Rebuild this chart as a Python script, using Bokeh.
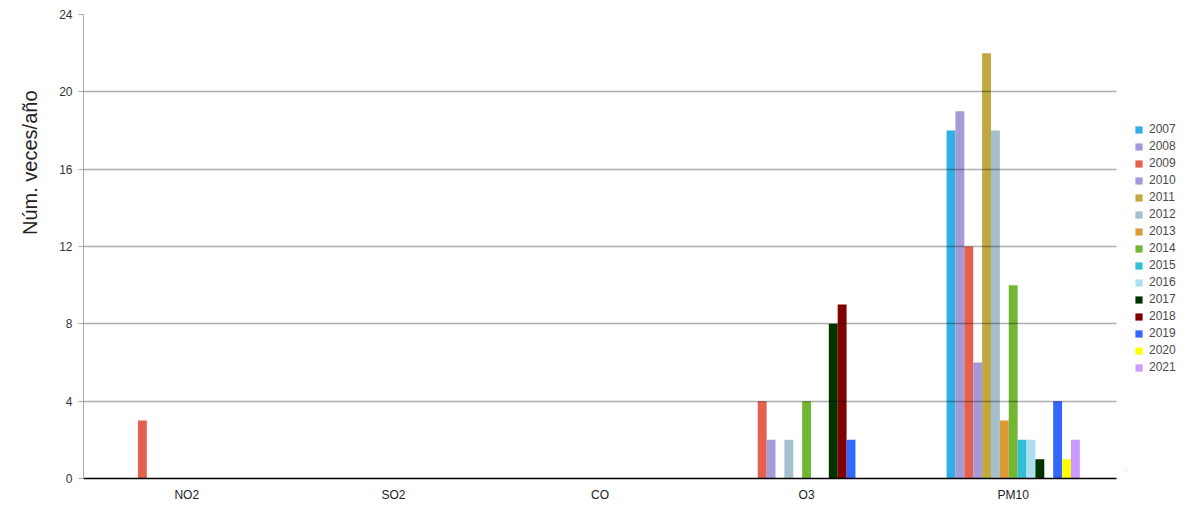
from bokeh.plotting import figure
from bokeh.layouts import row
from bokeh.models import ColumnDataSource, FixedTicker, Legend, LegendItem, Title
from bokeh.transform import dodge
from bokeh.embed import file_html
from bokeh.resources import INLINE

categories = ["NO2", "SO2", "CO", "O3", "PM10"]
years = ["2007", "2008", "2009", "2010", "2011", "2012", "2013", "2014",
         "2015", "2016", "2017", "2018", "2019", "2020", "2021"]
v2007 = [0, 0, 0, 0, 18]
v2008 = [0, 0, 0, 0, 19]
v2009 = [3, 0, 0, 4, 12]
v2010 = [0, 0, 0, 2, 6]
v2011 = [0, 0, 0, 0, 22]
v2012 = [0, 0, 0, 2, 18]
v2013 = [0, 0, 0, 0, 3]
v2014 = [0, 0, 0, 4, 10]
v2015 = [0, 0, 0, 0, 2]
v2016 = [0, 0, 0, 0, 2]
v2017 = [0, 0, 0, 8, 1]
v2018 = [0, 0, 0, 9, 0]
v2019 = [0, 0, 0, 2, 4]
v2020 = [0, 0, 0, 0, 1]
v2021 = [0, 0, 0, 0, 2]
series = [v2007, v2008, v2009, v2010, v2011, v2012, v2013, v2014,
          v2015, v2016, v2017, v2018, v2019, v2020, v2021]
colors = ["#33aee5", "#a599d8", "#e5614f", "#a599d8", "#bfa940", "#a5c0cc",
          "#dd9a33", "#72b634", "#33bfd4", "#addff3", "#003300", "#800000",
          "#3366ff", "#ffff00", "#cc99ff"]
y_ticks = [0, 4, 8, 12, 16, 20, 24]

data = {"cat": categories}
for y, s in zip(years, series):
    data["y" + y] = s
source = ColumnDataSource(data)

TOTAL_W, TOTAL_H = 1178, 496
BL, BR, BT, BB = 82, 10, 14, 18
FW, FH = 1033, 464
p = figure(x_range=categories, y_range=(0, 24),
           frame_width=FW, frame_height=FH,
           output_backend="svg", toolbar_location=None,
           min_border_left=BL, min_border_right=BR, min_border_top=BT,
           min_border_bottom=BB)
p.outline_line_color = None
p.background_fill_color = "white"

w = 0.043
for i, (y, c) in enumerate(zip(years, colors)):
    p.vbar(x=dodge("cat", (i - 7) * w, range=p.x_range), top="y" + y,
           width=w, source=source, fill_color=c, line_color=None)

p.yaxis.ticker = FixedTicker(ticks=y_ticks)
p.yaxis.axis_line_color = "#aaaaaa"
p.yaxis.major_tick_line_color = "#aaaaaa"
p.yaxis.major_tick_out = 5
p.yaxis.major_tick_in = 0
p.yaxis.minor_tick_line_color = None
p.yaxis.major_label_text_font = "Liberation Sans"
p.yaxis.major_label_text_font_size = "12px"
p.yaxis.major_label_text_color = "#333333"
p.yaxis.major_label_standoff = 6

p.xaxis.axis_line_color = "black"
p.xaxis.axis_line_width = 1.5
p.xaxis.major_tick_line_color = None
p.xaxis.minor_tick_line_color = None
p.xaxis.major_label_text_font = "Liberation Sans"
p.xaxis.major_label_text_font_size = "12px"
p.xaxis.major_label_text_color = "#222222"
p.xaxis.major_label_standoff = 3

p.xgrid.grid_line_color = None
p.ygrid.grid_line_color = "black"
p.ygrid.grid_line_alpha = 0.32
p.ygrid.grid_line_width = 1.3
p.ygrid.level = "overlay"

ttl = Title(text="Núm. veces/año", align="right", offset=76,
            text_font="Liberation Sans", text_font_size="20px",
            text_font_style="normal", text_color="#222222", standoff=32)
p.add_layout(ttl, "left")

# legend panel as its own small figure
LW = TOTAL_W - (BL + FW + BR)
lg = figure(width=LW, height=TOTAL_H, x_range=(0, 1), y_range=(0, 1),
            output_backend="svg", toolbar_location=None,
            min_border=0, min_border_left=0, min_border_right=0,
            min_border_top=0, min_border_bottom=0)
lg.axis.visible = False
lg.grid.grid_line_color = None
lg.outline_line_color = None
items = []
for y, c in zip(years, colors):
    r = lg.vbar(x=[-10], top=[-10], width=1, fill_color=c, line_color=None)
    items.append(LegendItem(label=y, renderers=[r]))
legend = Legend(items=items, location=(8, 96), orientation="vertical",
                border_line_color=None,
                background_fill_alpha=0, margin=0, padding=0,
                glyph_width=9, glyph_height=9, label_height=13, spacing=3,
                label_standoff=6, label_text_font="Liberation Sans",
                label_text_font_size="12px", label_text_color="#4a4a4a")
lg.add_layout(legend)

layout = row(p, lg, spacing=0)
open("out.html", "w").write(file_html(layout, INLINE))
